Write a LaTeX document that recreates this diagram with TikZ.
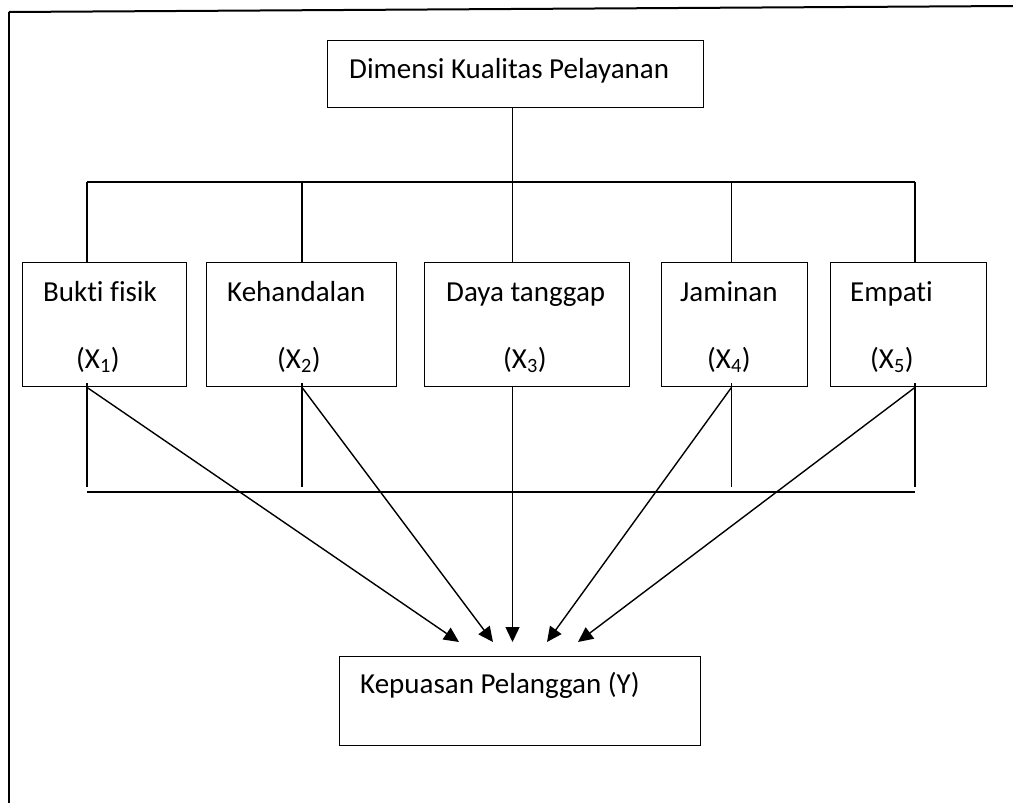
\documentclass[tikz,border=0pt]{standalone}
\usepackage{fontspec}
\setmainfont{Carlito}[Ligatures=CommonOff]
\usetikzlibrary{arrows.meta}
\begin{document}
\begin{tikzpicture}[x=1pt,y=-1pt,
  box/.style={draw, line width=1.4pt, inner sep=0pt, anchor=north west},
  txt/.style={inner sep=0pt, anchor=base west, font=\fontsize{29}{34}\selectfont},
  conn/.style={line width=1.4pt},
  arr/.style={line width=1.4pt, -{Triangle[length=15pt,width=14pt]}}]
\useasboundingbox (0,0) rectangle (1013,803);
% frame (top and left only)
\coordinate (f0) at (9,12);
\coordinate (f1) at (1013,6);
\coordinate (f2) at (9,803);
\draw[line width=2pt] (f0) -- (f1);
\draw[line width=1.4pt] (f0) -- (f2);
% top box
\node[box, minimum width=376pt, minimum height=67pt] (top) at (327,40) {};
\node[txt] (ttop) at (349,78) {Dimensi Kualitas Pelayanan};
% dimension boxes
\node[box, minimum width=164pt, minimum height=124pt] (b1) at (22,262) {};
\node[box, minimum width=190pt, minimum height=124pt] (b2) at (206,262) {};
\node[box, minimum width=205pt, minimum height=124pt] (b3) at (424,262) {};
\node[box, minimum width=146pt, minimum height=124pt] (b4) at (661,262) {};
\node[box, minimum width=156pt, minimum height=124pt] (b5) at (830,262) {};
\node[txt] (t1a) at (43,301.5) {Bukti fisik};
\node[txt] (t1b) at (76,368) {(X\textsubscript{1})};
\node[txt] (t2a) at (227,301.5) {Kehandalan};
\node[txt] (t2b) at (277,368) {(X\textsubscript{2})};
\node[txt] (t3a) at (446,301.5) {Daya tanggap};
\node[txt] (t3b) at (503,368) {(X\textsubscript{3})};
\node[txt] (t4a) at (680,301.5) {Jaminan};
\node[txt] (t4b) at (707,368) {(X\textsubscript{4})};
\node[txt] (t5a) at (850,301.5) {Empati};
\node[txt] (t5b) at (870,368) {(X\textsubscript{5})};
% bottom box
\node[box, minimum width=361pt, minimum height=89pt] (y) at (339,656) {};
\node[txt] (ty) at (360,693) {Kepuasan Pelanggan (Y)};
% upper tree
\coordinate (h0) at (512.5,182);
\coordinate (d1) at (87,182);
\coordinate (d2) at (302,182);
\coordinate (d3) at (512.5,182);
\coordinate (d4) at (731.5,182);
\coordinate (d5) at (915,182);
\draw[conn] (top.south -| h0) -- (h0);
\draw[conn] (d1) -- (d5);
\draw[conn] (d1) -- (d1 |- b1.north);
\draw[conn] (d2) -- (d2 |- b2.north);
\draw[conn] (d3) -- (d3 |- b3.north);
\draw[conn] (d4) -- (d4 |- b4.north);
\draw[conn] (d5) -- (d5 |- b5.north);
% lower bracket
\coordinate (l1) at (87,487);
\coordinate (l2) at (302,487);
\coordinate (l4) at (731.5,487);
\coordinate (l5) at (915,487);
\coordinate (g1) at (87,492);
\coordinate (g5) at (915,492);
\draw[conn] ([yshift=4pt]b1.south -| l1) -- (l1);
\draw[conn] ([yshift=4pt]b2.south -| l2) -- (l2);
\draw[conn] ([yshift=4pt]b4.south -| l4) -- (l4);
\draw[conn] ([yshift=4pt]b5.south -| l5) -- (l5);
\draw[conn] (g1) -- (g5);
% arrows
\coordinate (p1) at (459,642);
\coordinate (p2) at (493,642);
\coordinate (p3) at (512.5,642);
\coordinate (p4) at (547,642);
\coordinate (p5) at (578,642);
\draw[arr] (b1.south -| d1) -- (p1);
\draw[arr] (b2.south -| d2) -- (p2);
\draw[arr] (b3.south -| d3) -- (p3);
\draw[arr] (b4.south -| d4) -- (p4);
\draw[arr] (b5.south -| d5) -- (p5);
\end{tikzpicture}
\end{document}
